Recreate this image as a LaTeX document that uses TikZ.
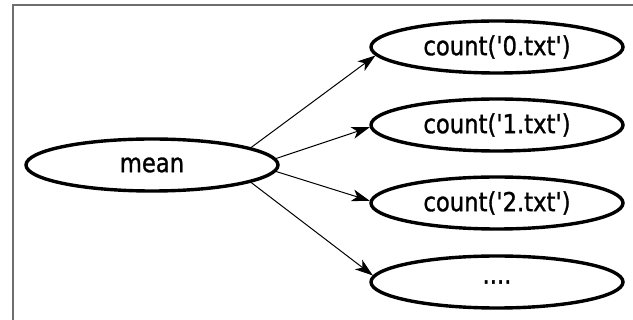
\documentclass[tikz,border=0pt]{standalone}
\usepackage{fontspec}
\setmainfont{DejaVu Sans}
\newfontfamily\taskfont{DejaVu Sans}[FakeBold=1.2]
\usepackage{graphicx}
\usepackage{xcolor}
\usepackage{tikz}
\usetikzlibrary{shapes.geometric,arrows.meta}
\definecolor{framegray}{RGB}{110,110,110}
\newcommand\tasktext[1]{\scalebox{1}[1.15]{#1}}

\begin{document}
\begin{tikzpicture}[x=1pt,y=-1pt,
 task/.style={draw, ellipse, line width=3.4pt, minimum width=252pt, minimum height=52pt, inner sep=0pt, font=\taskfont\fontsize{22.7}{27}\selectfont},
 dep/.style={-{Stealth[length=18pt,width=12pt,inset=5pt]}, line width=1pt}]
\useasboundingbox (0,0) rectangle (633,320);
\draw[framegray, line width=2pt] (13,321) -- (13,5) -- (634,5);
\node[task] (mean) at (152,165) {\tasktext{mean}};
\node[task] (c0) at (497,47) {\tasktext{count(\textquotesingle0.txt\textquotesingle)}};
\node[task] (c1) at (497,125) {\tasktext{count(\textquotesingle1.txt\textquotesingle)}};
\node[task] (c2) at (497,203) {\tasktext{count(\textquotesingle2.txt\textquotesingle)}};
\node[task] (c3) at (497,282) {\tasktext{....}};
\draw[dep] (mean.10) -- (c0.184);
\draw[dep] (mean.3) -- (c1.181);
\draw[dep] (mean.-3) -- (c2.179);
\draw[dep] (mean.-10) -- (c3.177);
\end{tikzpicture}
\end{document}
